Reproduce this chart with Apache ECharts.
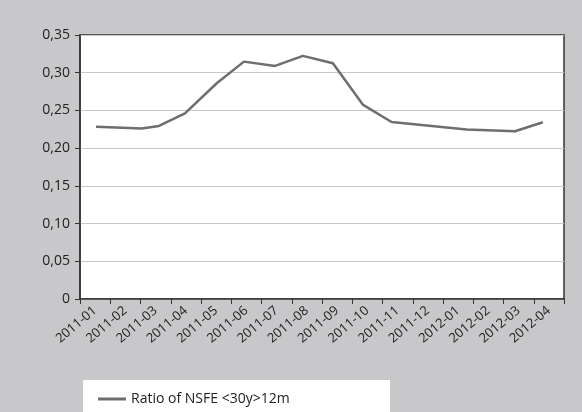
<!DOCTYPE html>
<html>
<head>
<meta charset="UTF-8">
<script src="https://cdn.jsdelivr.net/npm/echarts@6/dist/echarts.min.js"></script>
<style>html,body{margin:0;padding:0;background:#c8c8ca;}#c{width:582px;height:412px;}</style>
</head>
<body>
<div id="c"></div>
<script>
var months = ['2011-01','2011-02','2011-03','2011-04','2011-05','2011-06','2011-07','2011-08',
  '2011-09','2011-10','2011-11','2011-12','2012-01','2012-02','2012-03','2012-04'];
// position in months from start of 2011-01
var xPos = [0.53, 2.04, 2.61, 3.47, 4.52, 5.42, 6.45, 7.37, 8.36, 9.36, 10.3, 12.78, 14.38, 15.3];
var ratio = [0.2285, 0.2259, 0.2295, 0.2462, 0.286, 0.3147, 0.309, 0.3223, 0.3126, 0.2573, 0.2347, 0.2246, 0.2224, 0.2344];

var chart = echarts.init(document.getElementById('c'));
chart.setOption({
  backgroundColor: '#c8c8ca',
  animation: false,
  textStyle: {fontFamily: 'Open Sans'},
  grid: {left: 80, right: 18, top: 35, bottom: 113, backgroundColor: '#fff', show: true, borderWidth: 1.5, borderColor: '#333'},
  graphic: [{type: 'rect', left: 83, top: 380, shape: {width: 307, height: 40}, style: {fill: '#fff'}}],
  legend: {left: 93, top: 387, itemWidth: 28, itemHeight: 3, itemGap: 10,
    icon: 'rect', textStyle: {fontSize: 14, color: '#222', fontFamily: 'Open Sans'}},
  xAxis: [{
    type: 'value', min: 0, max: 16, interval: 1,
    axisLine: {lineStyle: {color: '#333', width: 1.5}},
    axisTick: {show: true, length: 5, lineStyle: {color: '#333'}},
    axisLabel: {show: false}, splitLine: {show: false}
  }, {
    type: 'category', data: months, position: 'bottom', boundaryGap: true,
    axisLine: {show: false}, axisTick: {show: false},
    axisLabel: {rotate: 40, fontSize: 13, color: '#222', margin: 10, interval: 0}
  }],
  yAxis: {
    type: 'value', min: 0, max: 0.35, interval: 0.05,
    axisLine: {show: true, lineStyle: {color: '#333', width: 1.5}},
    axisTick: {show: true, length: 5, lineStyle: {color: '#333'}},
    splitLine: {lineStyle: {color: '#c8c8c8', width: 1.2}},
    axisLabel: {fontSize: 14, color: '#222', margin: 10,
      formatter: function (v) { return v === 0 ? '0' : v.toFixed(2).replace('.', ','); }}
  },
  series: [{
    name: 'Ratio of NSFE <30y>12m', type: 'line', xAxisIndex: 0,
    data: xPos.map(function (x, i) { return [x, ratio[i]]; }),
    symbol: 'none', color: '#6d6e71', lineStyle: {width: 2.5, color: '#6d6e71'}
  }]
});
</script>
</body>
</html>
